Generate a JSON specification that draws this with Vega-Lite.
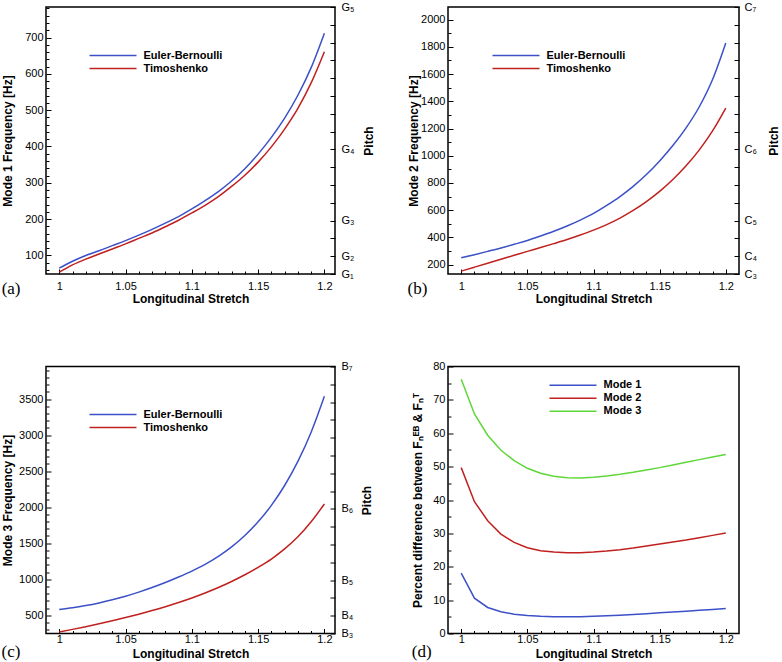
{
"$schema": "https://vega.github.io/schema/vega-lite/v6.json",
"padding": 0,
"background": "white",
"datasets": {
"a": [
{"x":1,"m":"Euler-Bernoulli","f":65},{"x":1.01,"m":"Euler-Bernoulli","f":84},{"x":1.02,"m":"Euler-Bernoulli","f":100},{"x":1.03,"m":"Euler-Bernoulli","f":113},{"x":1.04,"m":"Euler-Bernoulli","f":127},{"x":1.05,"m":"Euler-Bernoulli","f":141},{"x":1.06,"m":"Euler-Bernoulli","f":156},{"x":1.07,"m":"Euler-Bernoulli","f":172},{"x":1.08,"m":"Euler-Bernoulli","f":189},{"x":1.09,"m":"Euler-Bernoulli","f":207},{"x":1.1,"m":"Euler-Bernoulli","f":228},{"x":1.11,"m":"Euler-Bernoulli","f":251},{"x":1.12,"m":"Euler-Bernoulli","f":276},{"x":1.13,"m":"Euler-Bernoulli","f":305},{"x":1.14,"m":"Euler-Bernoulli","f":339},{"x":1.15,"m":"Euler-Bernoulli","f":379},{"x":1.16,"m":"Euler-Bernoulli","f":425},{"x":1.17,"m":"Euler-Bernoulli","f":478},{"x":1.18,"m":"Euler-Bernoulli","f":541},{"x":1.19,"m":"Euler-Bernoulli","f":617},{"x":1.2,"m":"Euler-Bernoulli","f":712},
{"x":1,"m":"Timoshenko","f":54},{"x":1.01,"m":"Timoshenko","f":74},{"x":1.02,"m":"Timoshenko","f":90},{"x":1.03,"m":"Timoshenko","f":104},{"x":1.04,"m":"Timoshenko","f":118},{"x":1.05,"m":"Timoshenko","f":132},{"x":1.06,"m":"Timoshenko","f":147},{"x":1.07,"m":"Timoshenko","f":162},{"x":1.08,"m":"Timoshenko","f":179},{"x":1.09,"m":"Timoshenko","f":197},{"x":1.1,"m":"Timoshenko","f":217},{"x":1.11,"m":"Timoshenko","f":238},{"x":1.12,"m":"Timoshenko","f":262},{"x":1.13,"m":"Timoshenko","f":290},{"x":1.14,"m":"Timoshenko","f":321},{"x":1.15,"m":"Timoshenko","f":357},{"x":1.16,"m":"Timoshenko","f":399},{"x":1.17,"m":"Timoshenko","f":448},{"x":1.18,"m":"Timoshenko","f":505},{"x":1.19,"m":"Timoshenko","f":575},{"x":1.2,"m":"Timoshenko","f":661}
],
"b": [
{"x":1,"m":"Euler-Bernoulli","f":250},{"x":1.01,"m":"Euler-Bernoulli","f":273},{"x":1.02,"m":"Euler-Bernoulli","f":297},{"x":1.03,"m":"Euler-Bernoulli","f":322},{"x":1.04,"m":"Euler-Bernoulli","f":349},{"x":1.05,"m":"Euler-Bernoulli","f":377},{"x":1.06,"m":"Euler-Bernoulli","f":410},{"x":1.07,"m":"Euler-Bernoulli","f":445},{"x":1.08,"m":"Euler-Bernoulli","f":484},{"x":1.09,"m":"Euler-Bernoulli","f":527},{"x":1.1,"m":"Euler-Bernoulli","f":576},{"x":1.11,"m":"Euler-Bernoulli","f":635},{"x":1.12,"m":"Euler-Bernoulli","f":700},{"x":1.13,"m":"Euler-Bernoulli","f":775},{"x":1.14,"m":"Euler-Bernoulli","f":862},{"x":1.15,"m":"Euler-Bernoulli","f":962},{"x":1.16,"m":"Euler-Bernoulli","f":1075},{"x":1.17,"m":"Euler-Bernoulli","f":1205},{"x":1.18,"m":"Euler-Bernoulli","f":1360},{"x":1.19,"m":"Euler-Bernoulli","f":1560},{"x":1.2,"m":"Euler-Bernoulli","f":1829},
{"x":1,"m":"Timoshenko","f":152},{"x":1.01,"m":"Timoshenko","f":181},{"x":1.02,"m":"Timoshenko","f":210},{"x":1.03,"m":"Timoshenko","f":239},{"x":1.04,"m":"Timoshenko","f":268},{"x":1.05,"m":"Timoshenko","f":297},{"x":1.06,"m":"Timoshenko","f":325},{"x":1.07,"m":"Timoshenko","f":354},{"x":1.08,"m":"Timoshenko","f":384},{"x":1.09,"m":"Timoshenko","f":417},{"x":1.1,"m":"Timoshenko","f":453},{"x":1.11,"m":"Timoshenko","f":494},{"x":1.12,"m":"Timoshenko","f":542},{"x":1.13,"m":"Timoshenko","f":598},{"x":1.14,"m":"Timoshenko","f":663},{"x":1.15,"m":"Timoshenko","f":738},{"x":1.16,"m":"Timoshenko","f":825},{"x":1.17,"m":"Timoshenko","f":926},{"x":1.18,"m":"Timoshenko","f":1043},{"x":1.19,"m":"Timoshenko","f":1182},{"x":1.2,"m":"Timoshenko","f":1350}
],
"c": [
{"x":1,"m":"Euler-Bernoulli","f":579},{"x":1.01,"m":"Euler-Bernoulli","f":603},{"x":1.02,"m":"Euler-Bernoulli","f":634},{"x":1.03,"m":"Euler-Bernoulli","f":671},{"x":1.04,"m":"Euler-Bernoulli","f":714},{"x":1.05,"m":"Euler-Bernoulli","f":764},{"x":1.06,"m":"Euler-Bernoulli","f":821},{"x":1.07,"m":"Euler-Bernoulli","f":884},{"x":1.08,"m":"Euler-Bernoulli","f":954},{"x":1.09,"m":"Euler-Bernoulli","f":1030},{"x":1.1,"m":"Euler-Bernoulli","f":1112},{"x":1.11,"m":"Euler-Bernoulli","f":1205},{"x":1.12,"m":"Euler-Bernoulli","f":1316},{"x":1.13,"m":"Euler-Bernoulli","f":1448},{"x":1.14,"m":"Euler-Bernoulli","f":1606},{"x":1.15,"m":"Euler-Bernoulli","f":1796},{"x":1.16,"m":"Euler-Bernoulli","f":2024},{"x":1.17,"m":"Euler-Bernoulli","f":2300},{"x":1.18,"m":"Euler-Bernoulli","f":2634},{"x":1.19,"m":"Euler-Bernoulli","f":3040},{"x":1.2,"m":"Euler-Bernoulli","f":3538},
{"x":1,"m":"Timoshenko","f":268},{"x":1.01,"m":"Timoshenko","f":304},{"x":1.02,"m":"Timoshenko","f":342},{"x":1.03,"m":"Timoshenko","f":382},{"x":1.04,"m":"Timoshenko","f":424},{"x":1.05,"m":"Timoshenko","f":468},{"x":1.06,"m":"Timoshenko","f":515},{"x":1.07,"m":"Timoshenko","f":565},{"x":1.08,"m":"Timoshenko","f":619},{"x":1.09,"m":"Timoshenko","f":677},{"x":1.1,"m":"Timoshenko","f":740},{"x":1.11,"m":"Timoshenko","f":809},{"x":1.12,"m":"Timoshenko","f":885},{"x":1.13,"m":"Timoshenko","f":969},{"x":1.14,"m":"Timoshenko","f":1062},{"x":1.15,"m":"Timoshenko","f":1165},{"x":1.16,"m":"Timoshenko","f":1280},{"x":1.17,"m":"Timoshenko","f":1420},{"x":1.18,"m":"Timoshenko","f":1588},{"x":1.19,"m":"Timoshenko","f":1797},{"x":1.2,"m":"Timoshenko","f":2044}
],
"d": [
{"x":1,"m":"Mode 1","p":18.1},{"x":1.01,"m":"Mode 1","p":10.6},{"x":1.02,"m":"Mode 1","p":7.8},{"x":1.03,"m":"Mode 1","p":6.5},{"x":1.04,"m":"Mode 1","p":5.8},{"x":1.05,"m":"Mode 1","p":5.4},{"x":1.06,"m":"Mode 1","p":5.15},{"x":1.07,"m":"Mode 1","p":5.0},{"x":1.08,"m":"Mode 1","p":5.0},{"x":1.09,"m":"Mode 1","p":5.05},{"x":1.1,"m":"Mode 1","p":5.15},{"x":1.11,"m":"Mode 1","p":5.3},{"x":1.12,"m":"Mode 1","p":5.5},{"x":1.13,"m":"Mode 1","p":5.7},{"x":1.14,"m":"Mode 1","p":5.95},{"x":1.15,"m":"Mode 1","p":6.2},{"x":1.16,"m":"Mode 1","p":6.45},{"x":1.17,"m":"Mode 1","p":6.7},{"x":1.18,"m":"Mode 1","p":6.95},{"x":1.19,"m":"Mode 1","p":7.2},{"x":1.2,"m":"Mode 1","p":7.5},
{"x":1,"m":"Mode 2","p":49.7},{"x":1.01,"m":"Mode 2","p":39.5},{"x":1.02,"m":"Mode 2","p":33.8},{"x":1.03,"m":"Mode 2","p":29.8},{"x":1.04,"m":"Mode 2","p":27.3},{"x":1.05,"m":"Mode 2","p":25.7},{"x":1.06,"m":"Mode 2","p":24.8},{"x":1.07,"m":"Mode 2","p":24.4},{"x":1.08,"m":"Mode 2","p":24.2},{"x":1.09,"m":"Mode 2","p":24.2},{"x":1.1,"m":"Mode 2","p":24.4},{"x":1.11,"m":"Mode 2","p":24.7},{"x":1.12,"m":"Mode 2","p":25.1},{"x":1.13,"m":"Mode 2","p":25.6},{"x":1.14,"m":"Mode 2","p":26.2},{"x":1.15,"m":"Mode 2","p":26.8},{"x":1.16,"m":"Mode 2","p":27.4},{"x":1.17,"m":"Mode 2","p":28.0},{"x":1.18,"m":"Mode 2","p":28.7},{"x":1.19,"m":"Mode 2","p":29.4},{"x":1.2,"m":"Mode 2","p":30.1},
{"x":1,"m":"Mode 3","p":76.2},{"x":1.01,"m":"Mode 3","p":65.8},{"x":1.02,"m":"Mode 3","p":59.4},{"x":1.03,"m":"Mode 3","p":54.9},{"x":1.04,"m":"Mode 3","p":51.8},{"x":1.05,"m":"Mode 3","p":49.5},{"x":1.06,"m":"Mode 3","p":48.0},{"x":1.07,"m":"Mode 3","p":47.1},{"x":1.08,"m":"Mode 3","p":46.7},{"x":1.09,"m":"Mode 3","p":46.6},{"x":1.1,"m":"Mode 3","p":46.8},{"x":1.11,"m":"Mode 3","p":47.2},{"x":1.12,"m":"Mode 3","p":47.7},{"x":1.13,"m":"Mode 3","p":48.3},{"x":1.14,"m":"Mode 3","p":49.0},{"x":1.15,"m":"Mode 3","p":49.7},{"x":1.16,"m":"Mode 3","p":50.5},{"x":1.17,"m":"Mode 3","p":51.3},{"x":1.18,"m":"Mode 3","p":52.1},{"x":1.19,"m":"Mode 3","p":52.9},{"x":1.2,"m":"Mode 3","p":53.6}
]
},
"columns": 2,
"spacing": {"column": 31, "row": 54.5},
"resolve": {"scale": {"color": "independent"}, "legend": {"color": "independent"}},
"concat": [
{
"width": 289, "height": 267,
"title": {"text": "(a)", "orient": "bottom", "anchor": "start", "frame": "bounds", "offset": -23},
"data": {"name": "a"},
"resolve": {"axis": {"x": "independent", "y": "independent"}},
"layer": [
{"mark": {"type": "line", "strokeWidth": 1.5, "interpolate": "monotone", "clip": true},
 "encoding": {
  "x": {"field": "x", "type": "quantitative", "scale": {"domain": [0.99, 1.208], "nice": false, "zero": false}, "axis": {"orient": "bottom", "values": [1, 1.05, 1.1, 1.15, 1.2], "format": "~g", "title": "Longitudinal Stretch"}},
  "y": {"field": "f", "type": "quantitative", "scale": {"domain": [49, 784], "nice": false, "zero": false}, "axis": {"orient": "left", "values": [100, 200, 300, 400, 500, 600, 700], "format": "d", "title": "Mode 1 Frequency [Hz]", "titlePadding": 10}},
  "color": {"field": "m", "type": "nominal", "scale": {"domain": ["Euler-Bernoulli", "Timoshenko"], "range": ["#3c50c8", "#c0201e"]}, "legend": {"legendX": 61, "legendY": 42.5}}
 }},
{"mark": {"type": "point", "opacity": 0},
 "encoding": {
  "x": {"field": "x", "type": "quantitative", "axis": {"orient": "bottom", "values": [1.01,1.02,1.03,1.04,1.06,1.07,1.08,1.09,1.11,1.12,1.13,1.14,1.16,1.17,1.18,1.19], "labels": false, "title": null, "tickSize": -3}},
  "y": {"field": "f", "type": "quantitative", "axis": {"orient": "left", "values": [60,80,120,140,160,180,220,240,260,280,320,340,360,380,420,440,460,480,520,540,560,580,620,640,660,680,720,740,760,780], "labels": false, "title": null, "tickSize": -3}}
 }},
{"mark": {"type": "point", "opacity": 0},
 "encoding": {
  "x": {"field": "x", "type": "quantitative", "axis": null},
  "y": {"field": "f", "type": "quantitative", "axis": {"orient": "right", "values": [49,98,147,196,245,294,343,392,441,490,539,588,637,686,735,784], "labelExpr": "abs(datum.value-49)<1?'G₁':abs(datum.value-98)<1?'G₂':abs(datum.value-196)<1?'G₃':abs(datum.value-392)<1?'G₄':abs(datum.value-784)<1?'G₅':''", "labelPadding": 11, "title": "Pitch", "titleAngle": 270, "titleBaseline": "top", "titlePadding": 9}}
 }}
]
},
{
"width": 291, "height": 267,
"title": {"text": "(b)", "orient": "bottom", "anchor": "start", "frame": "bounds", "offset": -23},
"data": {"name": "b"},
"resolve": {"axis": {"x": "independent", "y": "independent"}},
"layer": [
{"mark": {"type": "line", "strokeWidth": 1.5, "interpolate": "monotone", "clip": true},
 "encoding": {
  "x": {"field": "x", "type": "quantitative", "scale": {"domain": [0.99, 1.21], "nice": false, "zero": false}, "axis": {"orient": "bottom", "values": [1, 1.05, 1.1, 1.15, 1.2], "format": "~g", "title": "Longitudinal Stretch"}},
  "y": {"field": "f", "type": "quantitative", "scale": {"domain": [130.81, 2092.96], "nice": false, "zero": false}, "axis": {"orient": "left", "values": [200,400,600,800,1000,1200,1400,1600,1800,2000], "format": "d", "title": "Mode 2 Frequency [Hz]", "titlePadding": 0}},
  "color": {"field": "m", "type": "nominal", "scale": {"domain": ["Euler-Bernoulli", "Timoshenko"], "range": ["#3c50c8", "#c0201e"]}, "legend": {"legendX": 62, "legendY": 42.5}}
 }},
{"mark": {"type": "point", "opacity": 0},
 "encoding": {
  "x": {"field": "x", "type": "quantitative", "axis": {"orient": "bottom", "values": [1.01,1.02,1.03,1.04,1.06,1.07,1.08,1.09,1.11,1.12,1.13,1.14,1.16,1.17,1.18,1.19], "labels": false, "title": null, "tickSize": -3}},
  "y": {"field": "f", "type": "quantitative", "axis": {"orient": "left", "values": [300,500,700,900,1100,1300,1500,1700,1900], "labels": false, "title": null, "tickSize": -3}}
 }},
{"mark": {"type": "point", "opacity": 0},
 "encoding": {
  "x": {"field": "x", "type": "quantitative", "axis": null},
  "y": {"field": "f", "type": "quantitative", "axis": {"orient": "right", "values": [130.81,261.62,392.43,523.24,654.05,784.86,915.67,1046.48,1177.29,1308.1,1438.91,1569.72,1700.53,1831.34,1962.15,2092.96], "labelExpr": "abs(datum.value-130.81)<1?'C₃':abs(datum.value-261.62)<1?'C₄':abs(datum.value-523.24)<1?'C₅':abs(datum.value-1046.48)<1?'C₆':abs(datum.value-2092.96)<1?'C₇':''", "labelPadding": 10, "title": "Pitch", "titleAngle": 270, "titleBaseline": "top", "titlePadding": 12}}
 }}
]
},
{
"width": 289, "height": 267,
"title": {"text": "(c)", "orient": "bottom", "anchor": "start", "frame": "bounds", "offset": -16},
"data": {"name": "c"},
"resolve": {"axis": {"x": "independent", "y": "independent"}},
"layer": [
{"mark": {"type": "line", "strokeWidth": 1.5, "interpolate": "monotone", "clip": true},
 "encoding": {
  "x": {"field": "x", "type": "quantitative", "scale": {"domain": [0.99, 1.208], "nice": false, "zero": false}, "axis": {"orient": "bottom", "values": [1, 1.05, 1.1, 1.15, 1.2], "format": "~g", "title": "Longitudinal Stretch", "labelPadding": 5, "titlePadding": 4}},
  "y": {"field": "f", "type": "quantitative", "scale": {"domain": [246.94, 3951.04], "nice": false, "zero": false}, "axis": {"orient": "left", "values": [500,1000,1500,2000,2500,3000,3500], "format": "d", "title": "Mode 3 Frequency [Hz]", "titlePadding": 4}},
  "color": {"field": "m", "type": "nominal", "scale": {"domain": ["Euler-Bernoulli", "Timoshenko"], "range": ["#3c50c8", "#c0201e"]}, "legend": {"legendX": 61, "legendY": 42}}
 }},
{"mark": {"type": "point", "opacity": 0},
 "encoding": {
  "x": {"field": "x", "type": "quantitative", "axis": {"orient": "bottom", "values": [1.01,1.02,1.03,1.04,1.06,1.07,1.08,1.09,1.11,1.12,1.13,1.14,1.16,1.17,1.18,1.19], "labels": false, "title": null, "tickSize": -3}},
  "y": {"field": "f", "type": "quantitative", "axis": {"orient": "left", "values": [300,400,600,700,800,900,1100,1200,1300,1400,1600,1700,1800,1900,2100,2200,2300,2400,2600,2700,2800,2900,3100,3200,3300,3400,3600,3700,3800,3900], "labels": false, "title": null, "tickSize": -3}}
 }},
{"mark": {"type": "point", "opacity": 0},
 "encoding": {
  "x": {"field": "x", "type": "quantitative", "axis": null},
  "y": {"field": "f", "type": "quantitative", "axis": {"orient": "right", "values": [246.94,493.88,740.82,987.76,1234.7,1481.64,1728.58,1975.52,2222.46,2469.4,2716.34,2963.28,3210.22,3457.16,3704.1,3951.04], "labelExpr": "abs(datum.value-246.94)<1?'B₃':abs(datum.value-493.88)<1?'B₄':abs(datum.value-987.76)<1?'B₅':abs(datum.value-1975.52)<1?'B₆':abs(datum.value-3951.04)<1?'B₇':''", "labelPadding": 11, "title": "Pitch", "titleAngle": 270, "titleBaseline": "top", "titlePadding": 9}}
 }}
]
},
{
"width": 291, "height": 267,
"title": {"text": "(d)", "orient": "bottom", "anchor": "start", "frame": "bounds", "offset": -16},
"data": {"name": "d"},
"resolve": {"axis": {"x": "independent", "y": "independent"}},
"layer": [
{"mark": {"type": "line", "strokeWidth": 1.5, "clip": true},
 "encoding": {
  "x": {"field": "x", "type": "quantitative", "scale": {"domain": [0.99, 1.21], "nice": false, "zero": false}, "axis": {"orient": "bottom", "values": [1, 1.05, 1.1, 1.15, 1.2], "format": "~g", "title": "Longitudinal Stretch", "labelPadding": 5, "titlePadding": 4}},
  "y": {"field": "p", "type": "quantitative", "scale": {"domain": [0, 80], "nice": false, "zero": false}, "axis": {"orient": "left", "values": [0,10,20,30,40,50,60,70,80], "format": "d", "title": "Percent difference between Fₙᴱᴮ & Fₙᵀ", "titlePadding": 8}},
  "color": {"field": "m", "type": "nominal", "scale": {"domain": ["Mode 1", "Mode 2", "Mode 3"], "range": ["#3c50c8", "#c0201e", "#5fd63a"]}, "legend": {"legendX": 119, "legendY": 12.8}}
 }},
{"mark": {"type": "point", "opacity": 0},
 "encoding": {
  "x": {"field": "x", "type": "quantitative", "axis": {"orient": "bottom", "values": [1.01,1.02,1.03,1.04,1.06,1.07,1.08,1.09,1.11,1.12,1.13,1.14,1.16,1.17,1.18,1.19], "labels": false, "title": null, "tickSize": -3}},
  "y": {"field": "p", "type": "quantitative", "axis": {"orient": "left", "values": [5,15,25,35,45,55,65,75], "labels": false, "title": null, "tickSize": -3}}
 }}
]
}
],
"config": {
 "font": "Liberation Sans",
 "view": {"stroke": "#000", "strokeWidth": 1.5},
 "axis": {"grid": false, "domain": false, "ticks": true, "tickColor": "#000", "tickWidth": 1, "tickSize": -5, "labelColor": "#000", "labelFont": "Liberation Sans", "labelFontSize": 11, "labelPadding": 8, "labelFlush": false, "labelOverlap": false, "labelBound": false, "titleFont": "Liberation Sans", "titleFontSize": 12, "titleFontWeight": "bold", "titleColor": "#000"},
 "axisX": {"titlePadding": 2, "labelPadding": 11},
 "legend": {"title": null, "orient": "none", "symbolType": "M-4.7,0H4.7", "symbolSize": 100, "symbolStrokeWidth": 1.5, "labelFont": "Liberation Sans", "labelFontSize": 11, "labelFontWeight": "bold", "labelColor": "#000", "labelOffset": 24.5, "rowPadding": 2, "padding": 0},
 "title": {"font": "Liberation Serif", "fontSize": 17, "fontWeight": "normal", "color": "#000"}
}
}
